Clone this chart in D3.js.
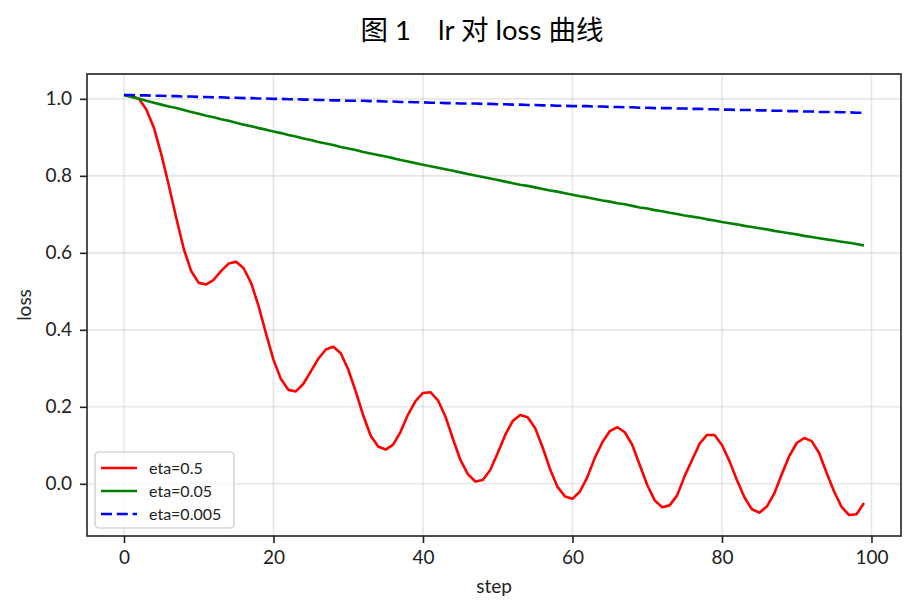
<!DOCTYPE html>
<html>
<head>
<meta charset="utf-8">
<script src="https://cdn.jsdelivr.net/npm/d3@7"></script>
<style>
  body { margin: 0; background: #fff; }
  text { font-family: Lato, "Noto Sans CJK SC", sans-serif; }
</style>
</head>
<body>
<div id="chart"></div>
<script>
// loss per step
const steps = d3.range(100);
const lossEta05 = [
  1.010, 1.008, 1.000, 0.972, 0.925, 0.855, 0.775, 0.690, 0.610, 0.552,
  0.522, 0.518, 0.530, 0.553, 0.572, 0.577, 0.560, 0.522, 0.462, 0.390,
  0.322, 0.272, 0.244, 0.240, 0.260, 0.292, 0.325, 0.349, 0.356, 0.339,
  0.297, 0.240, 0.178, 0.125, 0.097, 0.089, 0.102, 0.135, 0.180, 0.215,
  0.236, 0.238, 0.217, 0.175, 0.117, 0.062, 0.025, 0.006, 0.010, 0.036,
  0.080, 0.127, 0.163, 0.179, 0.173, 0.145, 0.095, 0.038, -0.008, -0.033,
  -0.039, -0.020, 0.018, 0.068, 0.108, 0.137, 0.147, 0.134, 0.101, 0.049,
  -0.003, -0.043, -0.061, -0.056, -0.030, 0.020, 0.062, 0.104, 0.127, 0.127,
  0.101, 0.059, 0.010, -0.035, -0.066, -0.075, -0.059, -0.025, 0.025, 0.072,
  0.106, 0.119, 0.111, 0.080, 0.028, -0.020, -0.060, -0.081, -0.079, -0.050
];
const lossEta005 = [
  1.010, 1.005, 1.000, 0.995, 0.990, 0.985, 0.980, 0.976, 0.971, 0.966,
  0.961, 0.956, 0.952, 0.947, 0.943, 0.938, 0.933, 0.929, 0.924, 0.920,
  0.915, 0.911, 0.906, 0.902, 0.897, 0.893, 0.888, 0.884, 0.880, 0.875,
  0.871, 0.867, 0.862, 0.858, 0.854, 0.850, 0.846, 0.841, 0.837, 0.833,
  0.829, 0.825, 0.821, 0.817, 0.813, 0.809, 0.805, 0.801, 0.797, 0.793,
  0.789, 0.785, 0.781, 0.777, 0.774, 0.770, 0.766, 0.762, 0.759, 0.755,
  0.751, 0.747, 0.744, 0.740, 0.736, 0.733, 0.729, 0.726, 0.722, 0.718,
  0.715, 0.711, 0.708, 0.704, 0.701, 0.697, 0.694, 0.691, 0.687, 0.684,
  0.680, 0.677, 0.674, 0.670, 0.667, 0.664, 0.661, 0.657, 0.654, 0.651,
  0.648, 0.644, 0.641, 0.638, 0.635, 0.632, 0.629, 0.626, 0.623, 0.619
];
const lossEta0005 = [
  1.010, 1.010, 1.009, 1.009, 1.008, 1.008, 1.007, 1.007, 1.006, 1.006,
  1.005, 1.005, 1.004, 1.004, 1.003, 1.003, 1.002, 1.002, 1.001, 1.001,
  1.000, 1.000, 0.999, 0.999, 0.998, 0.998, 0.997, 0.997, 0.996, 0.996,
  0.995, 0.995, 0.995, 0.994, 0.994, 0.993, 0.993, 0.992, 0.992, 0.991,
  0.991, 0.990, 0.990, 0.989, 0.989, 0.988, 0.988, 0.988, 0.987, 0.987,
  0.986, 0.986, 0.985, 0.985, 0.984, 0.984, 0.983, 0.983, 0.982, 0.982,
  0.981, 0.981, 0.981, 0.980, 0.980, 0.979, 0.979, 0.978, 0.978, 0.977,
  0.977, 0.976, 0.976, 0.976, 0.975, 0.975, 0.974, 0.974, 0.973, 0.973,
  0.972, 0.972, 0.971, 0.971, 0.971, 0.970, 0.970, 0.969, 0.969, 0.968,
  0.968, 0.967, 0.967, 0.966, 0.966, 0.966, 0.965, 0.965, 0.964, 0.964
];
const seriesNames = ["eta=0.5", "eta=0.05", "eta=0.005"];
const xTicks = [0, 20, 40, 60, 80, 100];
const yTicks = [0.0, 0.2, 0.4, 0.6, 0.8, 1.0];

const chart = {};
chart.margin = { top: 74, right: 14, bottom: 78, left: 87 };
chart.width = 915 - chart.margin.left - chart.margin.right;
chart.height = 614 - chart.margin.top - chart.margin.bottom;

const series = [
  { name: seriesNames[0], values: lossEta05, color: "#ff0000", dash: null },
  { name: seriesNames[1], values: lossEta005, color: "#008000", dash: null },
  { name: seriesNames[2], values: lossEta0005, color: "#0000ff", dash: "11,4.8" }
];

const root = d3.select("#chart").append("svg")
  .attr("width", 915)
  .attr("height", 614);

const svg = root.append("g")
  .attr("transform", `translate(${chart.margin.left},${chart.margin.top})`);

// matplotlib-style 5% margins
const xPad = (d3.max(steps) - d3.min(steps)) * 0.05;
const allY = series.flatMap(s => s.values);
const yMin = d3.min(allY), yMax = d3.max(allY);
const yPad = (yMax - yMin) * 0.05;

const x = d3.scaleLinear()
  .domain([d3.min(steps) - xPad, d3.max(steps) + xPad])
  .range([0, chart.width]);
const y = d3.scaleLinear()
  .domain([yMin - yPad, yMax + yPad])
  .range([chart.height, 0]);

// grid
svg.append("g").selectAll("line.vg")
  .data(xTicks).enter().append("line")
  .attr("x1", d => x(d)).attr("x2", d => x(d))
  .attr("y1", 0).attr("y2", chart.height)
  .attr("stroke", "#b0b0b0").attr("stroke-opacity", 0.3).attr("stroke-width", 1.6);
svg.append("g").selectAll("line.hg")
  .data(yTicks).enter().append("line")
  .attr("x1", 0).attr("x2", chart.width)
  .attr("y1", d => y(d)).attr("y2", d => y(d))
  .attr("stroke", "#b0b0b0").attr("stroke-opacity", 0.3).attr("stroke-width", 1.6);

// lines
const line = d3.line()
  .x((d, i) => x(steps[i]))
  .y(d => y(d));

series.forEach(s => {
  svg.append("path")
    .datum(s.values)
    .attr("fill", "none")
    .attr("stroke", s.color)
    .attr("stroke-width", 2.6)
    .attr("stroke-linejoin", "round")
    .attr("stroke-dasharray", s.dash)
    .attr("d", line);
});

// axes
const xAxis = svg.append("g")
  .attr("transform", `translate(0,${chart.height})`)
  .call(d3.axisBottom(x).tickValues(xTicks).tickFormat(d3.format("d")).tickSize(7).tickPadding(8));
const yAxis = svg.append("g")
  .call(d3.axisLeft(y).tickValues(yTicks).tickFormat(d3.format(".1f")).tickSize(7).tickPadding(8));

[xAxis, yAxis].forEach(a => {
  a.select(".domain").remove();
  a.selectAll(".tick line").attr("stroke", "#222").attr("stroke-width", 1.6);
  a.selectAll(".tick text").attr("fill", "#222").style("font-size", "19px");
});

// frame
svg.append("rect")
  .attr("width", chart.width)
  .attr("height", chart.height)
  .attr("fill", "none")
  .attr("stroke", "#222")
  .attr("stroke-width", 1.6);

// labels
svg.append("text")
  .attr("x", chart.width / 2)
  .attr("y", chart.height + 57)
  .attr("text-anchor", "middle")
  .attr("fill", "#222")
  .style("font-size", "19px")
  .text("step");

svg.append("text")
  .attr("transform", `translate(${-56},${chart.height / 2}) rotate(-90)`)
  .attr("text-anchor", "middle")
  .attr("fill", "#222")
  .style("font-size", "19px")
  .text("loss");

// title: wide gap after the figure number done with dx
const title = root.append("text")
  .attr("x", 482)
  .attr("y", 40)
  .attr("text-anchor", "middle")
  .attr("fill", "#000")
  .style("font-size", "27.5px");
title.append("tspan").text("图 1");
title.append("tspan").attr("dx", 27).text("lr 对 loss 曲线");

// legend
const legend = svg.append("g")
  .attr("transform", `translate(8,${chart.height - 84})`);
legend.append("rect")
  .attr("width", 139)
  .attr("height", 76)
  .attr("rx", 4)
  .attr("fill", "#fff")
  .attr("fill-opacity", 0.8)
  .attr("stroke", "#d6d6d6")
  .attr("stroke-width", 1.6);

const item = legend.selectAll("g.item")
  .data(series).enter().append("g")
  .attr("transform", (d, i) => `translate(0,${16 + i * 23})`);
item.append("line")
  .attr("x1", 6).attr("x2", 42)
  .attr("stroke", d => d.color)
  .attr("stroke-width", 2.6)
  .attr("stroke-dasharray", d => d.dash);
item.append("text")
  .attr("x", 54)
  .attr("y", 5.5)
  .attr("fill", "#222")
  .style("font-size", "16px")
  .text(d => d.name);
</script>
</body>
</html>
